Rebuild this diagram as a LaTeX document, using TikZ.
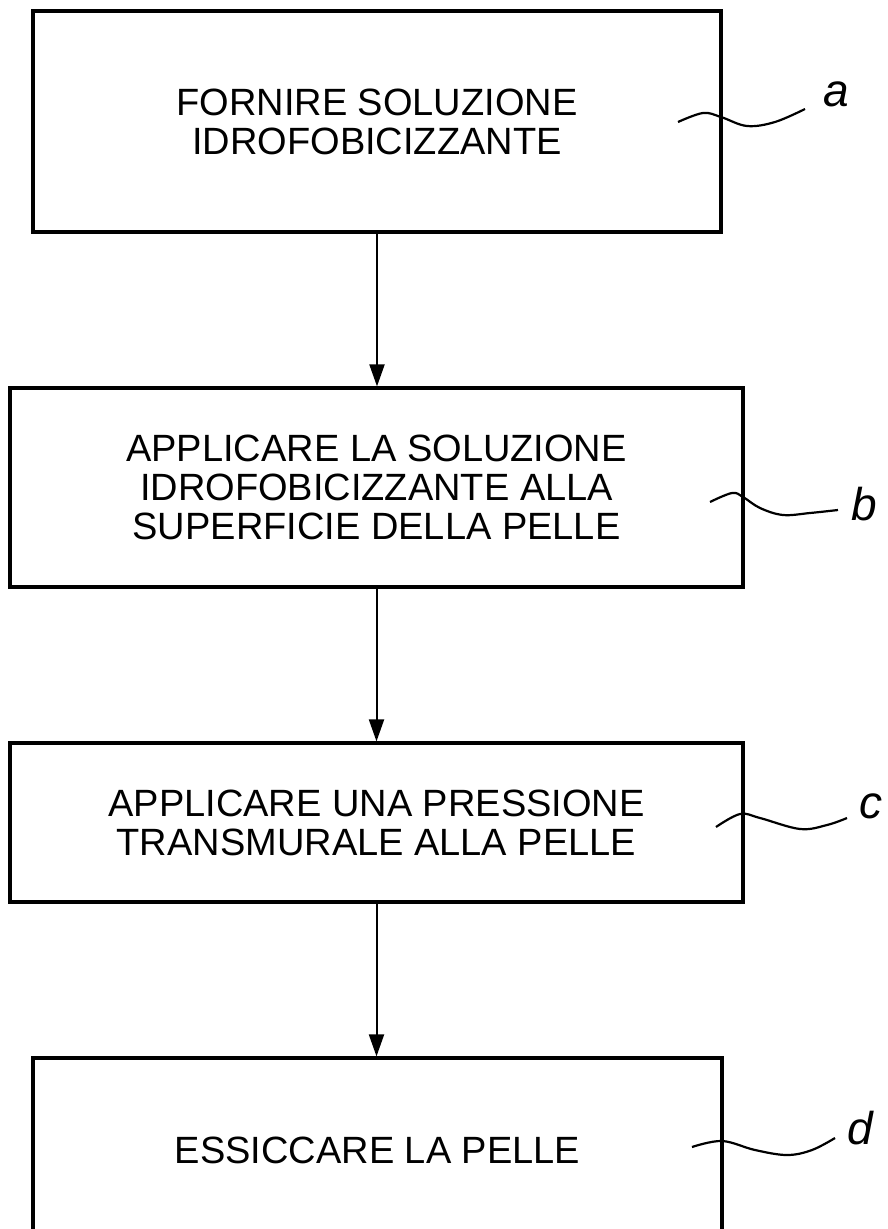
\documentclass[tikz,border=0pt]{standalone}
\usepackage{fontspec}
\setmainfont{Liberation Sans}
\usetikzlibrary{arrows.meta}
\tikzset{
  stepbox/.style={draw, line width=3.2pt, inner sep=0pt, align=center,
    font=\fontsize{38}{39}\selectfont},
  arr/.style={line width=2pt, -{Triangle[length=22pt,width=15pt]}},
  leader/.style={line width=2.2pt},
  lab/.style={inner sep=0pt, font=\fontsize{46}{46}\selectfont\itshape}
}
\begin{document}
\begin{tikzpicture}[x=1pt,y=-1pt]
\clip (0,0) rectangle (888,1229);
\fill[white] (0,0) rectangle (888,1229);
\node[stepbox, minimum width=688pt, minimum height=221pt] (A) at (377,121.5)
  {FORNIRE SOLUZIONE\\IDROFOBICIZZANTE};
\node[stepbox, minimum width=733pt, minimum height=199pt] (B) at (376.5,487.5)
  {APPLICARE LA SOLUZIONE\\IDROFOBICIZZANTE ALLA\\SUPERFICIE DELLA PELLE};
\node[stepbox, minimum width=733pt, minimum height=159pt] (C) at (376.5,822.5)
  {APPLICARE UNA PRESSIONE\\TRANSMURALE ALLA PELLE};
\node[stepbox, minimum width=689pt, minimum height=184pt] (D) at (377.5,1150)
  {ESSICCARE LA PELLE};
\draw[arr] (A.south) -- (A.south |- B.north);
\draw[arr] (B.south) -- (B.south |- C.north);
\draw[arr] (C.south) -- (C.south |- D.north);
\node[lab] (la) at (836,94) {a};
\node[lab] (lb) at (864,504) {b};
\node[lab] (lc) at (871,806) {c};
\node[lab] (ld) at (860,1128) {d};
\draw[leader] plot[smooth, tension=0.6] coordinates {(678,122) (703,113) (721,117) (747,126) (775,122) (805,109)};
\draw[leader] plot[smooth, tension=0.6] coordinates {(710,502) (732,493) (743,497) (760,508) (783,515) (810,513) (838,510)};
\draw[leader] plot[smooth, tension=0.6] coordinates {(716,827) (740,814) (760,818) (800,829) (827,825) (847,818)};
\draw[leader] plot[smooth, tension=0.6] coordinates {(692,1147) (722,1141) (755,1150) (787,1155) (812,1150) (835,1138)};
\end{tikzpicture}
\end{document}
